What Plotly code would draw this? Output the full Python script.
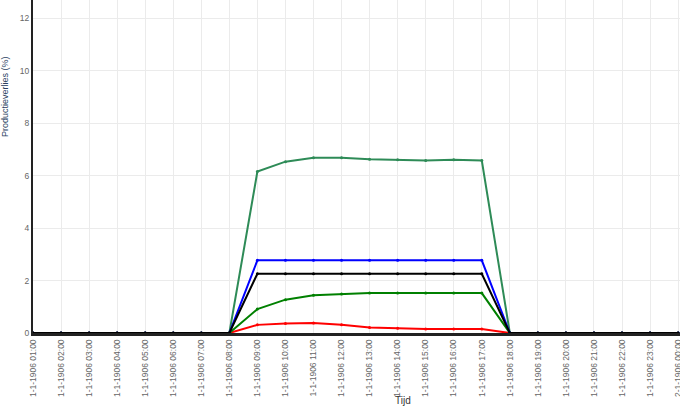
import plotly.graph_objects as go

hours = ["1906-01-01 %02d:00" % h for h in range(1, 24)] + ["1906-01-02 00:00"]

def day_profile(vals):
    # zero outside 09:00-17:00
    return [0.0] * 8 + vals + [0.0] * 7

series_seagreen = day_profile([6.15, 6.53, 6.68, 6.68, 6.62, 6.6, 6.57, 6.6, 6.57])
series_blue = day_profile([2.77] * 9)
series_black = day_profile([2.26] * 9)
series_green = day_profile([0.91, 1.27, 1.44, 1.49, 1.52, 1.52, 1.52, 1.52, 1.52])
series_red = day_profile([0.31, 0.36, 0.38, 0.31, 0.21, 0.18, 0.15, 0.15, 0.15])

series = [
    ("Serie 5", series_red, "#FF0000"),
    ("Serie 4", series_green, "#008000"),
    ("Serie 1", series_seagreen, "#2E8B57"),
    ("Serie 2", series_blue, "#0000FF"),
    ("Serie 3", series_black, "#000000"),
]

fig = go.Figure()
for name, vals, col in series:
    fig.add_trace(go.Scatter(
        x=hours, y=vals, name=name, mode="lines+markers",
        line=dict(color=col, width=2),
        marker=dict(color=col, size=3),
        showlegend=False,
    ))

fig.update_layout(
    width=680, height=409,
    margin=dict(l=33, r=0, t=0, b=76, autoexpand=False),
    paper_bgcolor="white", plot_bgcolor="white",
    font=dict(family="Liberation Sans, Arial, sans-serif", size=8, color="#666666"),
    xaxis=dict(
        type="date",
        range=["1906-01-01 01:00", "1906-01-02 00:04"],
        dtick=3600000, tick0="1906-01-01 01:00",
        tickformat="%-d-%-m-%Y %H:%M",
        tickangle=-90,
        ticklabeloverflow="allow",
        automargin=False,
        showgrid=True, gridcolor="#ebebeb", gridwidth=1,
        showline=True, linecolor="#222222", linewidth=3,
        zeroline=False,
        tickfont=dict(size=8.5, color="#666666"),
        ticks="",
    ),
    yaxis=dict(
        range=[0, 12.69],
        dtick=2,
        automargin=False,
        showgrid=True, gridcolor="#ebebeb", gridwidth=1,
        showline=True, linecolor="#222222", linewidth=2,
        zeroline=False,
        tickfont=dict(size=8.5, color="#666666"),
        ticks="",
    ),
    annotations=[
        dict(text="Productieverlies (%)", xref="paper", yref="paper",
             x=(5 - 33) / 647, y=(333 - 97) / 333, textangle=-90,
             xanchor="center", yanchor="middle",
             showarrow=False, font=dict(size=9, color="#2a3f5f")),
        dict(text="Tijd", xref="paper", yref="paper",
             x=(403 - 33) / 647, y=(333 - 400) / 333,
             xanchor="center", yanchor="middle",
             showarrow=False, font=dict(size=10, color="#333333")),
    ],
)

fig.write_html("out.html", config={"displayModeBar": False},
               post_script="document.body.style.margin='0';document.body.style.overflow='hidden';")
